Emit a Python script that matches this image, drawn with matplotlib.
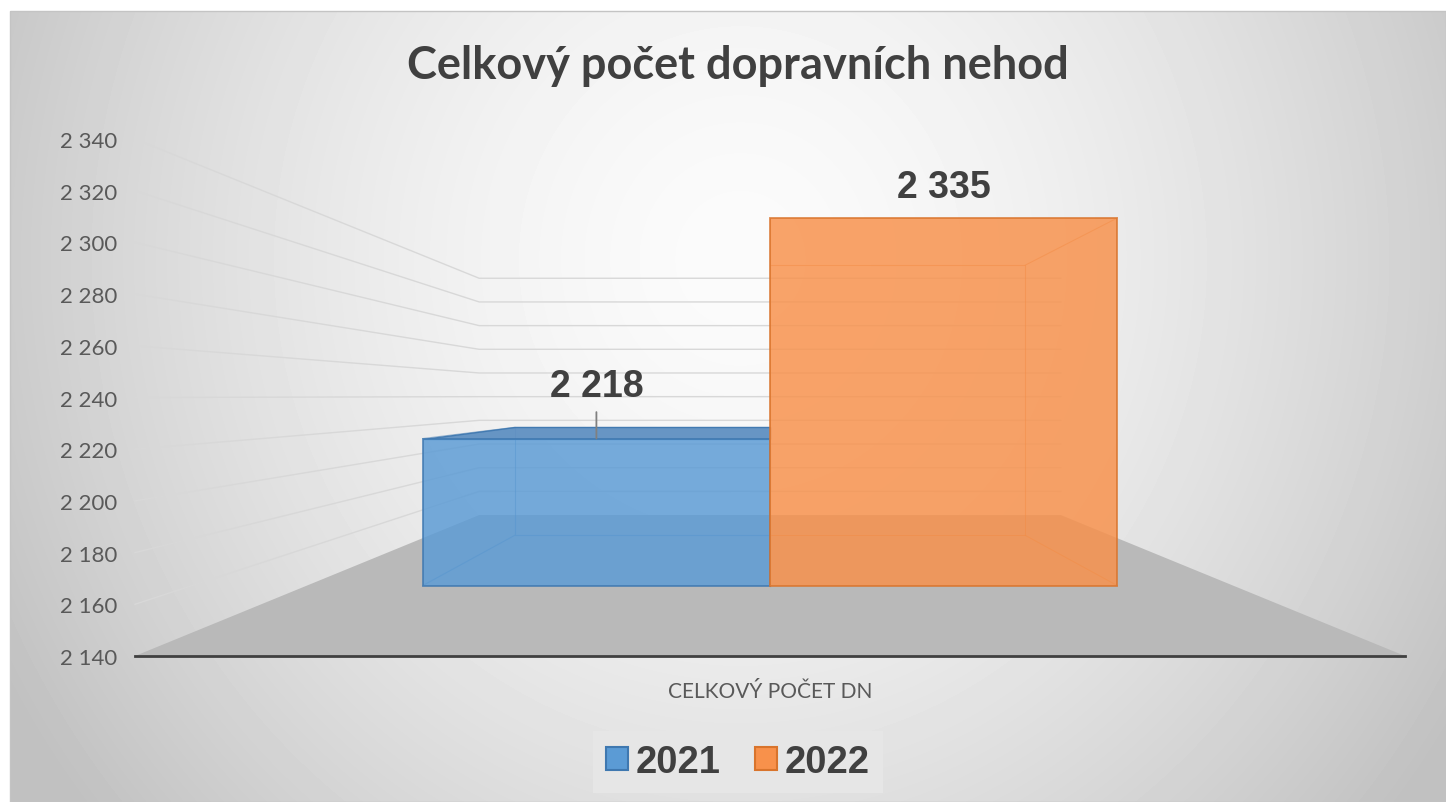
import numpy as np
import matplotlib
matplotlib.use("Agg")
import matplotlib.pyplot as plt
from matplotlib.patches import Polygon, Patch, Rectangle

# data
title = "Celkový počet dopravních nehod"
category = "CELKOVÝ POČET DN"
years = ["2021", "2022"]
values = [2218, 2335]
y_ticks = [2140, 2160, 2180, 2200, 2220, 2240, 2260, 2280, 2300, 2320, 2340]

colors = ["#5b9bd5", "#f8914b"]
edges = ["#3f78b0", "#d9742c"]
top_colors = ["#5f90c2", "#f9a66a"]
label_offsets = [38, 22]   # points above the bar top

W, H = 1446, 803
fig = plt.figure(figsize=(W / 100, H / 100), dpi=100)

# background with radial gradient (Excel style)
bg = fig.add_axes([0, 0, 1, 1])
bg.set_xlim(0, W)
bg.set_ylim(H, 0)
bg.axis("off")
xx, yy = np.meshgrid(np.arange(10, W), np.arange(12, H))
r = np.sqrt(((xx - 740) / 760) ** 2 + ((yy - 260) / 800) ** 2)
g = (251 - 50 * np.clip(r, 0, 1.1) ** 1.6) / 255
bg.imshow(g, cmap="gray", vmin=0, vmax=1, extent=(10, W, H, 12),
          aspect="auto", interpolation="bilinear")
bg.add_patch(Rectangle((10, 12), W - 10, H - 12, fill=False, ec="#c4c4c4", lw=1))

# front plane axes: x in [-1, 1], y in value units
ax = fig.add_axes([135 / W, (H - 657) / H, 1270 / W, 517 / H])
ax.set_xlim(-1, 1)
ax.set_ylim(y_ticks[0], y_ticks[-1])
ax.patch.set_alpha(0)
for s in ax.spines.values():
    s.set_visible(False)

# simple one-point perspective toward the horizon value
v_h = 2240.6
t_wall = 0.542
t_front, t_back = 0.271, 0.464
half = 0.75


def proj(x, v, t):
    k = 1 - t
    return x * k, v_h + (v - v_h) * k


# gridlines on side wall and back wall
for v in y_ticks[1:]:
    x0, y0 = proj(-1, v, 0)
    x1, y1 = proj(-1, v, t_wall)
    x2, y2 = proj(1, v, t_wall)
    ax.plot([x0, x1, x2], [y0, y1, y2], color="#d8d8d8", lw=1, zorder=1,
            clip_on=False)

# floor
base = y_ticks[0]
floor = [proj(-1, base, 0), proj(1, base, 0), proj(1, base, t_wall), proj(-1, base, t_wall)]
ax.add_patch(Polygon(floor, closed=True, fc="#b9b9b9", ec="none", zorder=2,
                     clip_on=False))

# bars
for i, v in enumerate(values):
    left = -half + i * half
    right = left + half
    # hidden edges seen through the transparent bar
    bk = [proj(left, base, t_back), proj(right, base, t_back),
          proj(right, v, t_back), proj(left, v, t_back)]
    fr = [proj(left, base, t_front), proj(right, base, t_front),
          proj(right, v, t_front), proj(left, v, t_front)]
    ax.add_patch(Polygon(bk, closed=True, fill=False, ec=edges[i], lw=0.8,
                         alpha=0.5, zorder=3 + i * 3, clip_on=False))
    for a, b in zip(bk, fr):
        ax.plot([a[0], b[0]], [a[1], b[1]], color=edges[i], lw=0.8, alpha=0.5,
                zorder=3 + i * 3, clip_on=False)
    if v < v_h:
        top = [fr[3], fr[2], bk[2], bk[3]]
        ax.add_patch(Polygon(top, closed=True, fc=top_colors[i], ec=edges[i],
                             lw=1, alpha=0.95, zorder=4 + i * 3, clip_on=False))
    ax.add_patch(Polygon(fr, closed=True, fc=colors[i], ec=edges[i], lw=1.3,
                         alpha=0.83, zorder=5 + i * 3, clip_on=False))

    cx = (fr[0][0] + fr[1][0]) / 2
    label = f"{v:,}".replace(",", " ")
    arrow = None
    if i == 0:
        arrow = dict(arrowstyle="-", color="#808080", lw=1.3, shrinkA=4,
                     shrinkB=0, relpos=(0.5, 0))
    ax.annotate(label, xy=(cx, fr[2][1]), xytext=(0, label_offsets[i]),
                textcoords="offset points", ha="center", va="center",
                fontsize=27, fontweight="bold", family="Liberation Sans",
                color="#404040", arrowprops=arrow, zorder=20)

# front edge of the floor
ax.plot([-1, 1], [base, base], color="#404040", lw=2, zorder=15, clip_on=False)

# axis labels
ax.set_yticks(y_ticks)
ax.set_yticklabels([f"{t:,}".replace(",", " ") for t in y_ticks],
                   family="Lato", fontsize=16, color="#595959")
ax.tick_params(axis="y", length=0, pad=13)
ax.set_xticks([])
ax.annotate(category, xy=(0, base), xytext=(0, -25), textcoords="offset points",
            ha="center", va="center", family="Lato", fontsize=15, color="#595959")

# title
fig.text(738 / W, 1 - 66 / H, title, ha="center", va="center", fontsize=32.5,
         fontweight="bold", family="Lato", color="#404040")

# legend
handles = [Patch(fc=colors[i], ec=edges[i], lw=1.5) for i in range(len(years))]
leg = fig.legend(handles, years, loc="center", bbox_to_anchor=(738 / W, 1 - 763 / H),
                 ncol=2, frameon=True, facecolor="#e6e6e6", edgecolor="none",
                 fancybox=False, framealpha=1, handlelength=0.57, handleheight=0.57,
                 handletextpad=0.2, columnspacing=0.9, borderpad=0.35,
                 prop=dict(family="Liberation Sans", weight="bold", size=27.5),
                 labelcolor="#404040")

fig.savefig("out.png", dpi=100)
